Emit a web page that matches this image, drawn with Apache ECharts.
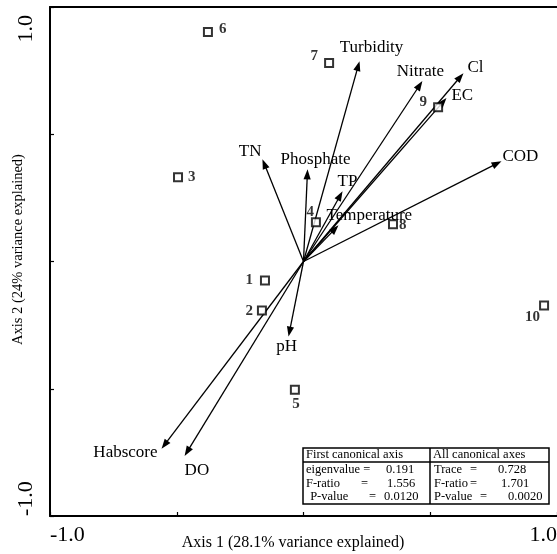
<!DOCTYPE html>
<html>
<head>
<meta charset="utf-8">
<script src="https://cdn.jsdelivr.net/npm/echarts@6/dist/echarts.min.js"></script>
<style>
  html, body { margin: 0; padding: 0; background: #fff; }
  #chart { width: 557px; height: 554px; }
</style>
</head>
<body>
<div id="chart"></div>
<script>
const SERIF = '"Liberation Serif", "Times New Roman", serif';

// Tick labels shown at the ends of each axis
const xTickLabels = ['-1.0', '1.0'];
const yTickLabels = ['-1.0', '1.0'];
const xAxisTitle = 'Axis 1 (28.1% variance explained)';
const yAxisTitle = 'Axis 2 (24% variance explained)';

// Site scores
const siteNames = ['1', '2', '3', '4', '5', '6', '7', '8', '9', '10'];
const siteAxis1 = [-0.152, -0.164, -0.495, 0.049, -0.034, -0.377, 0.101, 0.353, 0.531, 0.949];
const siteAxis2 = [-0.075, -0.193, 0.331, 0.154, -0.504, 0.902, 0.780, 0.146, 0.606, -0.173];

// Environmental variable vectors (drawn from the origin)
const envNames = ['Turbidity', 'Nitrate', 'Cl', 'EC', 'COD', 'TN', 'Phosphate', 'TP', 'Temperature', 'pH', 'Habscore', 'DO'];
const envAxis1 = [0.221, 0.469, 0.631, 0.564, 0.781, -0.162, 0.016, 0.154, 0.138, -0.059, -0.560, -0.469];
const envAxis2 = [0.787, 0.709, 0.740, 0.642, 0.394, 0.402, 0.362, 0.276, 0.142, -0.295, -0.736, -0.764];

// Summary statistics table
const statHeaders = ['First canonical axis', 'All canonical axes'];
const statFirstAxis = [['eigenvalue =', '', '0.191'], ['F-ratio', '=', '1.556'], [' P-value', '=', '0.0120']];
const statAllAxes = [['Trace', '=', '0.728'], ['F-ratio', '=', '1.701'], ['P-value', '=', '0.0020']];

// Label placement for vector names: [dx, dy, align] from arrow tip, in pixels
const envLabelLayout = [
  [12, -14, 'center'], [-2, -10, 'center'], [4, -6, 'left'], [5, -3, 'left'],
  [1, -5, 'left'], [-1, -8, 'right'], [8, -10, 'center'], [5, -10, 'center'],
  [-12, -10, 'left'], [-2, 10, 'center'], [-4, 4, 'right'], [0, 15, 'left']
];
// Label placement for site numbers: [position, distance, offsetX, offsetY]
const siteLabelLayout = [
  ['left', 7, 0, 0], ['left', 4, 0, 1], ['right', 5, 0, 0], ['left', 5, 8, -10],
  ['bottom', 2, 1, 0], ['right', 6, 0, -3], ['left', 6, 0, -7], ['right', 1, 0, 1],
  ['left', 6, 0, -5], ['left', -1, 0, 12]
];

const chart = echarts.init(document.getElementById('chart'), null, { renderer: 'canvas' });

const siteData = siteNames.map((n, i) => {
  const lay = siteLabelLayout[i];
  return {
    name: n,
    value: [siteAxis1[i], siteAxis2[i]],
    label: { position: lay[0], distance: lay[1], offset: [lay[2], lay[3]] }
  };
});

const envData = envNames.map((n, i) => [envAxis1[i], envAxis2[i]]);

function renderArrow(params, api) {
  const i = params.dataIndex;
  const o = api.coord([0, 0]);
  const t = api.coord([api.value(0), api.value(1)]);
  const dx = t[0] - o[0], dy = t[1] - o[1];
  const len = Math.hypot(dx, dy);
  const ux = dx / len, uy = dy / len;
  const hl = 10, hw = 3.6;
  const bx = t[0] - ux * hl, by = t[1] - uy * hl;
  const lay = envLabelLayout[i];
  return {
    type: 'group',
    children: [
      { type: 'line', shape: { x1: o[0], y1: o[1], x2: bx + ux * 2, y2: by + uy * 2 },
        style: { stroke: '#000', lineWidth: 1.3 } },
      { type: 'polygon',
        shape: { points: [[t[0], t[1]], [bx - uy * hw, by + ux * hw], [bx + uy * hw, by - ux * hw]] },
        style: { fill: '#000' } },
      { type: 'text', x: t[0] + lay[0], y: t[1] + lay[1],
        style: { text: envNames[i], fill: '#000', font: '17px ' + SERIF, align: lay[2], verticalAlign: 'middle' } }
    ]
  };
}

// Statistics box
const tb = { x: 303, y: 448, w: 246, h: 56, mid: 430, head: 462, rowY: [470, 483.5, 497] };
const tableFont = '12.5px ' + SERIF;
const tableGraphics = [
  { type: 'rect', shape: { x: tb.x, y: tb.y, width: tb.w, height: tb.h }, style: { fill: '#fff', stroke: '#000', lineWidth: 1.5 }, z: 10 },
  { type: 'line', shape: { x1: tb.mid, y1: tb.y, x2: tb.mid, y2: tb.y + tb.h }, style: { stroke: '#000', lineWidth: 1.5 }, z: 11 },
  { type: 'line', shape: { x1: tb.x, y1: tb.head, x2: tb.x + tb.w, y2: tb.head }, style: { stroke: '#000', lineWidth: 1.5 }, z: 11 },
  { type: 'text', x: 306, y: 455, style: { text: statHeaders[0], font: tableFont, fill: '#000', verticalAlign: 'middle' }, z: 11 },
  { type: 'text', x: 433, y: 455, style: { text: statHeaders[1], font: tableFont, fill: '#000', verticalAlign: 'middle' }, z: 11 }
];
const leftCols = [[306, 361, 386], [306, 361, 387], [307, 369, 384]];
const rightCols = [[434, 470, 498], [434, 470, 501], [434, 480, 508]];
statFirstAxis.forEach((row, r) => {
  row.forEach((txt, c) => {
    if (!txt) return;
    tableGraphics.push({ type: 'text', x: leftCols[r][c], y: tb.rowY[r],
      style: { text: txt, font: tableFont, fill: '#000', verticalAlign: 'middle' }, z: 11 });
  });
});
statAllAxes.forEach((row, r) => {
  row.forEach((txt, c) => {
    tableGraphics.push({ type: 'text', x: rightCols[r][c], y: tb.rowY[r],
      style: { text: txt, font: tableFont, fill: '#000', verticalAlign: 'middle' }, z: 11 });
  });
});

const axisLineStyle = { color: '#000', width: 2 };

chart.setOption({
  animation: false,
  backgroundColor: '#fff',
  grid: { left: 50, top: 7, right: 0, bottom: 38, containLabel: false, outerBoundsMode: 'none' },
  xAxis: [
    {
      type: 'value', min: -1, max: 1, interval: 0.5, position: 'bottom',
      axisLine: { onZero: false, lineStyle: axisLineStyle },
      axisTick: { inside: true, length: 4, lineStyle: { color: '#000', width: 1.2 } },
      splitLine: { show: false },
      axisLabel: {
        formatter: v => (v === -1 ? xTickLabels[0] : v === 1 ? xTickLabels[1] : ''),
        fontFamily: SERIF, fontSize: 22, color: '#000', margin: 8,
        showMinLabel: true, showMaxLabel: true,
        alignMinLabel: 'left', alignMaxLabel: 'right'
      },
      name: xAxisTitle, nameLocation: 'middle', nameGap: 19, nameMoveOverlap: false,
      nameTextStyle: { fontFamily: SERIF, fontSize: 16, color: '#000', padding: [0, 21, 0, 0] }
    },
    {
      type: 'value', min: -1, max: 1, position: 'top',
      axisLine: { onZero: false, lineStyle: axisLineStyle },
      axisTick: { show: false }, axisLabel: { show: false }, splitLine: { show: false }
    }
  ],
  yAxis: {
    type: 'value', min: -1, max: 1, interval: 0.5, position: 'left',
    axisLine: { onZero: false, lineStyle: axisLineStyle },
    axisTick: { inside: true, length: 4, lineStyle: { color: '#000', width: 1.2 } },
    splitLine: { show: false },
    axisLabel: {
      formatter: v => (v === -1 ? yTickLabels[0] : v === 1 ? '{top|' + yTickLabels[1] + '}' : ''),
      rotate: 90, fontFamily: SERIF, fontSize: 22, color: '#000', margin: 13,
      showMinLabel: true, showMaxLabel: true,
      alignMinLabel: 'left', alignMaxLabel: 'right',
      rich: { top: { fontFamily: SERIF, fontSize: 22, color: '#000', padding: [0, 8, 0, 0] } }
    },
    name: yAxisTitle, nameLocation: 'middle', nameRotate: 90, nameGap: 24, nameMoveOverlap: false,
    nameTextStyle: { fontFamily: SERIF, fontSize: 14.5, color: '#000', padding: [0, 0, 0, 24] }
  },
  series: [
    {
      type: 'custom', name: 'Environmental variables', coordinateSystem: 'cartesian2d',
      xAxisIndex: 0, yAxisIndex: 0, clip: false,
      data: envData, renderItem: renderArrow, z: 3
    },
    {
      type: 'scatter', name: 'Sites', xAxisIndex: 0, yAxisIndex: 0,
      symbol: 'rect', symbolSize: 8,
      itemStyle: { color: '#fff', borderColor: '#000', borderWidth: 2 },
      label: {
        show: true, formatter: '{b}', color: '#000',
        fontFamily: SERIF, fontWeight: 'bold', fontSize: 15
      },
      data: siteData, z: 4
    }
  ],
  graphic: tableGraphics
});
</script>
</body>
</html>
